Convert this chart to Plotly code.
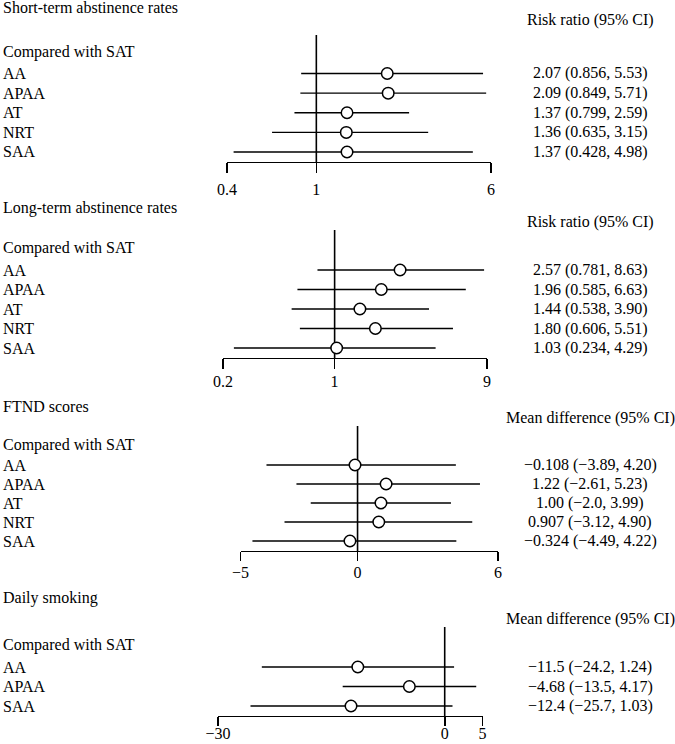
import math
import plotly.graph_objects as go

W, H = 675, 744
FONT = "Liberation Serif"
FS = 16

# ---------------- data ----------------
titles = ["Short-term abstinence rates", "Long-term abstinence rates", "FTND scores", "Daily smoking"]
headers = ["Risk ratio (95% CI)", "Risk ratio (95% CI)", "Mean difference (95% CI)", "Mean difference (95% CI)"]
comparator = "Compared with SAT"

short_rows = ["AA", "APAA", "AT", "NRT", "SAA"]
short_est = [2.07, 2.09, 1.37, 1.36, 1.37]
short_lo = [0.856, 0.849, 0.799, 0.635, 0.428]
short_hi = [5.53, 5.71, 2.59, 3.15, 4.98]
short_txt = ["2.07 (0.856, 5.53)", "2.09 (0.849, 5.71)", "1.37 (0.799, 2.59)",
             "1.36 (0.635, 3.15)", "1.37 (0.428, 4.98)"]
short_ticks = [0.4, 1, 6]
short_ticktext = ["0.4", "1", "6"]

long_rows = ["AA", "APAA", "AT", "NRT", "SAA"]
long_est = [2.57, 1.96, 1.44, 1.80, 1.03]
long_lo = [0.781, 0.585, 0.538, 0.606, 0.234]
long_hi = [8.63, 6.63, 3.90, 5.51, 4.29]
long_txt = ["2.57 (0.781, 8.63)", "1.96 (0.585, 6.63)", "1.44 (0.538, 3.90)",
            "1.80 (0.606, 5.51)", "1.03 (0.234, 4.29)"]
long_ticks = [0.2, 1, 9]
long_ticktext = ["0.2", "1", "9"]

ftnd_rows = ["AA", "APAA", "AT", "NRT", "SAA"]
ftnd_est = [-0.108, 1.22, 1.00, 0.907, -0.324]
ftnd_lo = [-3.89, -2.61, -2.0, -3.12, -4.49]
ftnd_hi = [4.20, 5.23, 3.99, 4.90, 4.22]
ftnd_txt = ["\u22120.108 (\u22123.89, 4.20)", "1.22 (\u22122.61, 5.23)", "1.00 (\u22122.0, 3.99)",
            "0.907 (\u22123.12, 4.90)", "\u22120.324 (\u22124.49, 4.22)"]
ftnd_ticks = [-5, 0, 6]
ftnd_ticktext = ["\u22125", "0", "6"]

daily_rows = ["AA", "APAA", "SAA"]
daily_est = [-11.5, -4.68, -12.4]
daily_lo = [-24.2, -13.5, -25.7]
daily_hi = [1.24, 4.17, 1.03]
daily_txt = ["\u221211.5 (\u221224.2, 1.24)", "\u22124.68 (\u221213.5, 4.17)", "\u221212.4 (\u221225.7, 1.03)"]
daily_ticks = [-30, 0, 5]
daily_ticktext = ["\u221230", "0", "5"]

panels = [
    dict(rows=short_rows, est=short_est, lo=short_lo, hi=short_hi, txt=short_txt,
         ticks=short_ticks, ticktext=short_ticktext, log=True, null=1),
    dict(rows=long_rows, est=long_est, lo=long_lo, hi=long_hi, txt=long_txt,
         ticks=long_ticks, ticktext=long_ticktext, log=True, null=1),
    dict(rows=ftnd_rows, est=ftnd_est, lo=ftnd_lo, hi=ftnd_hi, txt=ftnd_txt,
         ticks=ftnd_ticks, ticktext=ftnd_ticktext, log=False, null=0),
    dict(rows=daily_rows, est=daily_est, lo=daily_lo, hi=daily_hi, txt=daily_txt,
         ticks=daily_ticks, ticktext=daily_ticktext, log=False, null=0),
]

# ---------------- layout geometry (pixels) ----------------
geom = [
    dict(title=8, header=20, top=35, comp=52, first=73.5, last=152, axis=162, x0=227, x1=491, tl=10, so=2),
    dict(title=208, header=222, top=230, comp=248, first=270, last=348, axis=358, x0=223, x1=487, tl=10, so=-2),
    dict(title=407, header=418, top=426, comp=445, first=465, last=541, axis=551, x0=240.5, x1=498, tl=9, so=-3),
    dict(title=598, header=619, top=627, comp=645, first=667, last=706, axis=716, x0=218, x1=482.5, tl=9, so=-7),
]

def py(p):
    return 1 - p / H

def px(p):
    return p / W

fig = go.Figure()
annotations = []
layout = {}
for i, (pn, g) in enumerate(zip(panels, geom)):
    k = "" if i == 0 else str(i + 1)
    n = len(pn["rows"])
    unit = (g["last"] - g["first"]) / (n - 1)
    ytop = 1 + (g["top"] - g["first"]) / unit
    ybot = 1 + (g["axis"] - g["first"]) / unit
    ypos = list(range(1, n + 1))
    xr = [math.log10(pn["ticks"][0]), math.log10(pn["ticks"][-1])] if pn["log"] else [pn["ticks"][0], pn["ticks"][-1]]
    eps = (xr[1] - xr[0]) * 1e-6
    layout["xaxis" + k] = dict(
        domain=[px(g["x0"]), px(g["x1"])], anchor="y" + k,
        type="log" if pn["log"] else "linear", range=[xr[0] - eps, xr[1] + eps],
        showline=True, linecolor="black", linewidth=1.3, showgrid=False, zeroline=False,
        ticks="outside", ticklen=g["tl"], tickwidth=1.6, tickcolor="black",
        tickmode="array", tickvals=pn["ticks"], ticktext=pn["ticktext"],
        ticklabelstandoff=g["so"],
        tickfont=dict(family=FONT, size=FS, color="black"), fixedrange=True,
    )
    layout["yaxis" + k] = dict(
        domain=[py(g["axis"]), py(g["top"])], anchor="x" + k,
        range=[ybot, ytop], visible=False, showgrid=False, zeroline=False, fixedrange=True,
    )
    xa, ya = "x" + k, "y" + k
    # reference line
    fig.add_trace(go.Scatter(x=[pn["null"], pn["null"]], y=[ytop, ybot], mode="lines",
                             line=dict(color="black", width=1.6), xaxis=xa, yaxis=ya,
                             showlegend=False, hoverinfo="skip"))
    # estimates with CIs
    fig.add_trace(go.Scatter(
        x=pn["est"], y=ypos, mode="markers", xaxis=xa, yaxis=ya, showlegend=False,
        marker=dict(symbol="circle", size=11.5, color="white", line=dict(color="black", width=1.5)),
        error_x=dict(type="data", symmetric=False,
                     array=[h - e for h, e in zip(pn["hi"], pn["est"])],
                     arrayminus=[e - l for e, l in zip(pn["est"], pn["lo"])],
                     color="black", thickness=1.3, width=0),
    ))
    # texts
    annotations.append(dict(text=titles[i], x=px(2), y=py(g["title"]), xref="paper", yref="paper",
                            xanchor="left", yanchor="middle", showarrow=False, borderpad=0))
    annotations.append(dict(text=headers[i], x=px(590), y=py(g["header"]), xref="paper", yref="paper",
                            xanchor="center", yanchor="middle", showarrow=False, borderpad=0))
    annotations.append(dict(text=comparator, x=px(2), y=py(g["comp"]), xref="paper", yref="paper",
                            xanchor="left", yanchor="middle", showarrow=False, borderpad=0))
    for r, lab, t in zip(ypos, pn["rows"], pn["txt"]):
        annotations.append(dict(text=lab, x=px(2), y=r, xref="paper", yref=ya,
                                xanchor="left", yanchor="middle", showarrow=False, borderpad=0))
        annotations.append(dict(text=t, x=px(590), y=r, xref="paper", yref=ya,
                                xanchor="center", yanchor="middle", showarrow=False, borderpad=0))

fig.update_layout(
    width=W, height=H, margin=dict(l=0, r=0, t=0, b=0, pad=0, autoexpand=False),
    paper_bgcolor="white", plot_bgcolor="white",
    font=dict(family=FONT, size=FS, color="black"),
    annotations=annotations, showlegend=False, hovermode=False, **layout,
)
fig.write_html("out.html", config={"displayModeBar": False, "staticPlot": True},
               post_script="document.body.style.margin='0';document.body.style.overflow='hidden';")
